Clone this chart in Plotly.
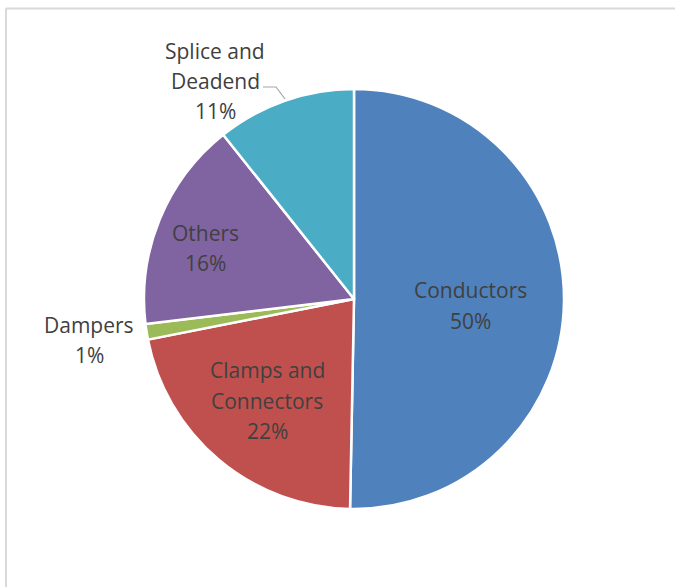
import plotly.graph_objects as go

# ---- data ----
categories = ["Conductors", "Clamps and Connectors", "Dampers", "Others", "Splice and Deadend"]
label_lines = [["Conductors"], ["Clamps and", "Connectors"], ["Dampers"], ["Others"], ["Splice and", "Deadend"]]
values = [50.3, 21.6, 1.2, 16.2, 10.7]
colors = ["#4F81BD", "#C0504D", "#9BBB59", "#8064A2", "#4BACC6"]

W, H = 675, 587
TXT = "#404040"
FONT = "Open Sans"
FS = 21

def px(x):
    return x / W

def py(y):
    return 1 - y / H

# pie geometry (pixels)
cx, cy, r = 354, 299, 210

fig = go.Figure(go.Pie(
    labels=categories,
    values=values,
    sort=False,
    direction="clockwise",
    rotation=0,
    marker=dict(colors=colors, line=dict(color="white", width=2.5)),
    textinfo="none",
    hoverinfo="label+percent",
    showlegend=False,
    domain=dict(x=[px(cx - r), px(cx + r)], y=[py(cy + r), py(cy - r)]),
))

# label placement (pixel centres of first line) and line spacing
label_pos = [(470, 290), (267, 370), (89, 325), (205, 233), (215, 51)]
spacing = [31, 30.5, 30, 30, 30]

total = sum(values)
annotations = []
for lines, v, (lx, ly), sp in zip(label_lines, values, label_pos, spacing):
    all_lines = lines + [f"{round(v / total * 100):.0f}%"]
    for i, t in enumerate(all_lines):
        annotations.append(dict(
            x=px(lx), y=py(ly + i * sp), xref="paper", yref="paper",
            text=t, showarrow=False, xanchor="center", yanchor="middle",
            font=dict(family=FONT, size=FS, color=TXT),
        ))

# leader line for Splice and Deadend
leader = [(263, 87), (276, 87), (285, 99)]
path = "M " + " L ".join(f"{px(x)} {py(y)}" for x, y in leader)

border = dict(color="#D9D9D9", width=2)
shapes = [
    dict(type="line", xref="paper", yref="paper",
         x0=px(6), x1=1.0, y0=py(8.5), y1=py(8.5), line=border, layer="below"),
    dict(type="line", xref="paper", yref="paper",
         x0=px(6), x1=px(6), y0=0.0, y1=py(8.5), line=border, layer="below"),
    dict(type="path", xref="paper", yref="paper", path=path,
         line=dict(color="#A6A6A6", width=1.2)),
]

fig.update_layout(
    width=W, height=H,
    margin=dict(l=0, r=0, t=0, b=0),
    paper_bgcolor="white", plot_bgcolor="white",
    annotations=annotations,
    shapes=shapes,
)

fig.write_html(
    "out.html",
    config={"displayModeBar": False},
    post_script="document.body.style.margin='0';document.body.style.overflow='hidden';",
)
